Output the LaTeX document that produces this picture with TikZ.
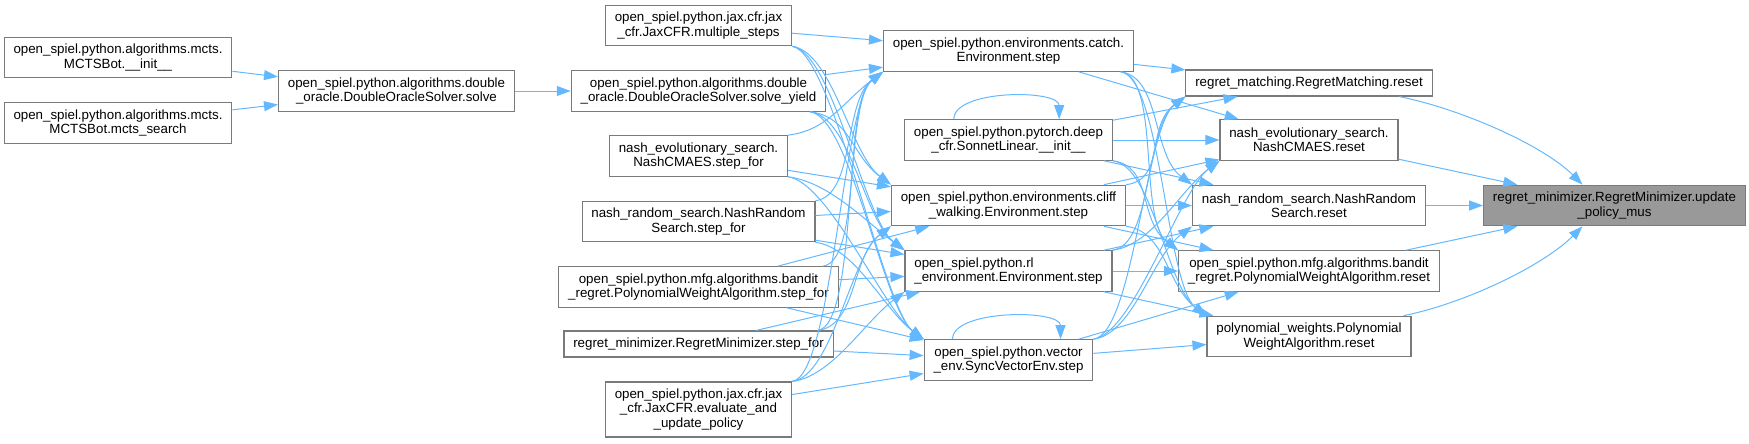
\documentclass[tikz,border=0pt]{standalone}
\usepackage{fontspec}
\setmainfont{Liberation Sans}
\usetikzlibrary{arrows.meta}
\definecolor{callblue}{HTML}{63B8FF}
\definecolor{boxline}{HTML}{7A7A7A}
\definecolor{hitfill}{HTML}{999999}

\begin{document}
\begin{tikzpicture}[x=0.75pt, y=-0.75pt, >={Triangle[length=10.5pt,width=7.5pt]},
  fn/.style={draw=boxline, line width=0.85pt, fill=white, align=center, inner xsep=7pt,
    inner ysep=1pt, minimum height=30.4pt, font=\fontsize{10}{10.6}\selectfont},
  oneline/.style={minimum height=19.5pt},
  threeline/.style={minimum height=41.25pt},
  call/.style={->, draw, color=callblue, line width=0.75pt},
  every edge/.style={call},
  fall/.style={to path={.. controls +(40,5) and +(-40,-30) .. (\tikztotarget)}},
  rise/.style={to path={.. controls +(40,-5) and +(-40,30) .. (\tikztotarget)}}]
  \useasboundingbox (0,0) rectangle (1749,443);
  % far left callers
  \node[fn] (mctsinit) at (118,57.5) {open\_spiel.python.algorithms.mcts.\\MCTSBot.\_\_init\_\_};
  \node[fn] (mctssearch) at (118,123) {open\_spiel.python.algorithms.mcts.\\MCTSBot.mcts\_search};
  \node[fn] (solve) at (396.5,91) {open\_spiel.python.algorithms.double\\\_oracle.DoubleOracleSolver.solve};
  % step functions
  \node[fn] (multisteps) at (698.5,25.5) {open\_spiel.python.jax.cfr.jax\\\_cfr.JaxCFR.multiple\_steps};
  \node[fn] (solveyield) at (698.5,91) {open\_spiel.python.algorithms.double\\\_oracle.DoubleOracleSolver.solve\_yield};
  \node[fn] (cmaesstep) at (698.5,156) {nash\_evolutionary\_search.\\NashCMAES.step\_for};
  \node[fn] (randomstep) at (698.5,221.5) {nash\_random\_search.NashRandom\\Search.step\_for};
  \node[fn] (banditstep) at (698.5,287) {open\_spiel.python.mfg.algorithms.bandit\\\_regret.PolynomialWeightAlgorithm.step\_for};
  \node[fn,oneline] (rmstep) at (698.5,344) {regret\_minimizer.RegretMinimizer.step\_for};
  \node[fn,threeline] (evalpolicy) at (698.5,409.5) {open\_spiel.python.jax.cfr.jax\\\_cfr.JaxCFR.evaluate\_and\\\_update\_policy};
  % environments
  \node[fn] (catchstep) at (1008.5,51) {open\_spiel.python.environments.catch.\\Environment.step};
  \node[fn] (sonnetinit) at (1008.5,140) {open\_spiel.python.pytorch.deep\\\_cfr.SonnetLinear.\_\_init\_\_};
  \node[fn] (cliffstep) at (1008.5,205.5) {open\_spiel.python.environments.cliff\\\_walking.Environment.step};
  \node[fn,align=left] (rlstep) at (1008.5,271) {open\_spiel.python.rl\\\_environment.Environment.step};
  \node[fn] (vecstep) at (1008.5,360) {open\_spiel.python.vector\\\_env.SyncVectorEnv.step};
  % resets
  \node[fn,oneline] (rmreset) at (1309,83) {regret\_matching.RegretMatching.reset};
  \node[fn] (cmaesreset) at (1309,140) {nash\_evolutionary\_search.\\NashCMAES.reset};
  \node[fn] (randomreset) at (1309,205.5) {nash\_random\_search.NashRandom\\Search.reset};
  \node[fn] (banditreset) at (1309,271) {open\_spiel.python.mfg.algorithms.bandit\\\_regret.PolynomialWeightAlgorithm.reset};
  \node[fn] (polyreset) at (1309,336.5) {polynomial\_weights.Polynomial\\WeightAlgorithm.reset};
  % the function itself
  \node[fn,fill=hitfill] (updatemus) at (1614.5,205.5) {regret\_minimizer.RegretMinimizer.update\\\_policy\_mus};

  % left part
  \path (mctsinit) edge (solve) (mctssearch) edge (solve) (solve) edge (solveyield);
  % calls into the environments
  \path (multisteps) edge (catchstep)
    (multisteps.south east) edge[fall] (cliffstep.north west) edge[fall] (rlstep.north west) edge[fall] (vecstep.north west);
  \path (solveyield) edge (catchstep)
    ([xshift=-12pt]solveyield.south east) edge[fall] (cliffstep.north west) edge[fall] (rlstep.north west) edge[fall] (vecstep.north west);
  \path (cmaesstep) edge (cliffstep)
    (cmaesstep.north east) edge[rise] (catchstep.south west)
    (cmaesstep.south east) edge[fall] (rlstep.north west) edge[fall] (vecstep.north west);
  \path (randomstep) edge (cliffstep) edge (rlstep)
    (randomstep.north east) edge[rise] (catchstep.south west)
    (randomstep.south east) edge[fall] (vecstep.north west);
  \path (banditstep) edge (cliffstep) edge (rlstep) edge (vecstep)
    ([xshift=-12pt]banditstep.north east) edge[rise] (catchstep.south west);
  \path (rmstep) edge (rlstep) edge (vecstep)
    ([xshift=-12pt]rmstep.north east) edge[rise] (catchstep.south west) edge[rise] (cliffstep.south west);
  \path (evalpolicy) edge (vecstep)
    (evalpolicy.north east) edge[rise] (catchstep.south west) edge[rise] (cliffstep.south west) edge[rise] (rlstep.south west);
  % calls into the resets
  \path (catchstep) edge (rmreset) edge (cmaesreset)
    ([xshift=-10pt]catchstep.south east) edge[fall] (randomreset.north west) edge[fall] (banditreset.north west) edge[fall] (polyreset.north west);
  \path (sonnetinit) edge (rmreset) edge (cmaesreset) edge (randomreset)
    (sonnetinit.south east) edge[fall] (banditreset.north west) edge[fall] (polyreset.north west);
  \path (cliffstep) edge (cmaesreset) edge (randomreset) edge (banditreset)
    (cliffstep.north east) edge[rise] (rmreset.south west)
    (cliffstep.south east) edge[fall] (polyreset.north west);
  \path (rlstep) edge (randomreset) edge (banditreset) edge (polyreset)
    (rlstep.north east) edge[rise] (rmreset.south west) edge[rise] (cmaesreset.south west);
  \path (vecstep) edge (banditreset) edge (polyreset)
    (vecstep.north east) edge[rise] (rmreset.south west) edge[rise] (cmaesreset.south west) edge[rise] (randomreset.south west);
  % self calls
  \draw[call] ([xshift=-41pt]sonnetinit.north) .. controls +(0,-30) and +(0,-30) .. ([xshift=38pt]sonnetinit.north);
  \draw[call] ([xshift=-42pt]vecstep.north) .. controls +(0,-30) and +(0,-30) .. ([xshift=39pt]vecstep.north);
  % into update_policy_mus
  \draw[call] ([xshift=-25pt]rmreset.south east) .. controls +(60,12) and +(-40,-40) .. ([xshift=-24pt]updatemus.north);
  \path (cmaesreset) edge (updatemus) (randomreset) edge (updatemus) (banditreset) edge (updatemus);
  \draw[call] ([xshift=-6pt]polyreset.north east) .. controls +(60,-12) and +(-40,40) .. ([xshift=-24pt]updatemus.south);
\end{tikzpicture}
\end{document}
